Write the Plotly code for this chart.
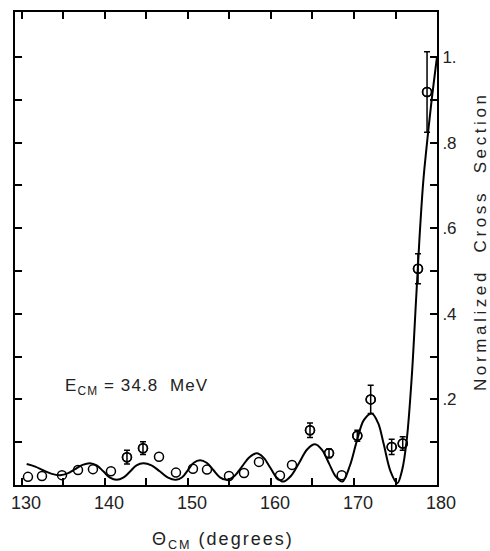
import plotly.graph_objects as go

# Measured points (angle in degrees, normalized cross section)
data_angle = [130.72, 132.41, 134.82, 136.75, 138.55, 140.72, 142.65, 144.58, 146.51,
              148.55, 150.60, 152.29, 154.94, 156.75, 158.55, 161.08, 162.53, 164.70,
              166.99, 168.52, 170.40, 172.01, 174.54, 175.87, 177.71, 178.80]
data_value = [0.019, 0.021, 0.023, 0.035, 0.037, 0.032, 0.065, 0.086, 0.066,
              0.029, 0.038, 0.036, 0.021, 0.028, 0.054, 0.022, 0.047, 0.128,
              0.074, 0.023, 0.115, 0.200, 0.089, 0.097, 0.505, 0.918]
data_error = [None, None, None, None, None, None, 0.016, 0.015, None,
              None, None, None, None, None, None, None, None, 0.017,
              0.010, None, 0.013, 0.033, 0.018, 0.016, 0.035, 0.094]

# Theoretical curve
curve_angle = [130.57, 131.6, 132.6, 133.6, 134.58, 135.5, 136.4, 137.3, 138.19,
               139.0, 139.8, 140.6, 141.41, 142.2, 143.0, 143.8, 144.62,
               145.6, 146.6, 147.6, 148.55, 149.3, 150.0, 150.7, 151.45,
               152.25, 153.05, 153.85, 154.66, 155.6, 156.5, 157.4, 158.28,
               159.1, 159.9, 160.7, 161.48, 162.4, 163.4, 164.35, 165.30,
               166.15, 167.0, 167.8, 168.6, 169.5, 170.33, 171.2, 172.13,
               172.9, 173.55, 174.4, 175.22, 175.8, 176.35, 176.95, 177.47,
               177.9, 178.35, 178.8, 179.3, 180.0]
curve_value = [0.049, 0.043, 0.034, 0.026, 0.023, 0.027, 0.037, 0.047, 0.051,
               0.046, 0.032, 0.017, 0.012, 0.017, 0.031, 0.046, 0.051,
               0.046, 0.032, 0.017, 0.012, 0.018, 0.035, 0.052, 0.058,
               0.052, 0.035, 0.018, 0.012, 0.021, 0.043, 0.065, 0.074,
               0.064, 0.041, 0.017, 0.008, 0.021, 0.052, 0.083, 0.095,
               0.082, 0.050, 0.020, 0.008, 0.045, 0.102, 0.152, 0.167,
               0.145, 0.098, 0.032, 0.004, 0.035, 0.105, 0.250, 0.430,
               0.580, 0.710, 0.800, 0.890, 1.000]

x_tickvals = [130, 140, 150, 160, 170, 180]
x_ticktext = ["130", "140", "150", "160", "170", "180"]
x_minorvals = [135, 145, 155, 165, 175]
y_tickvals = [0.2, 0.4, 0.6, 0.8, 1.0]
y_ticktext = [".2", ".4", ".6", ".8", "1."]
y_minorvals = [0.1, 0.3, 0.5, 0.7, 0.9]

err_x = [a for a, e in zip(data_angle, data_error) if e is not None]
err_y = [v for v, e in zip(data_value, data_error) if e is not None]
err_e = [e for e in data_error if e is not None]

FONT = "Liberation Sans"
INK = "#222"

fig = go.Figure()
fig.add_trace(go.Scatter(x=curve_angle, y=curve_value, mode="lines",
                         line=dict(color="black", width=2, shape="spline", smoothing=1.0),
                         hoverinfo="skip"))
fig.add_trace(go.Scatter(x=err_x, y=err_y, mode="markers",
                         marker=dict(symbol="circle-open", size=9, color="black",
                                     line=dict(width=1.5, color="black")),
                         error_y=dict(type="data", array=err_e, visible=True,
                                      color="black", thickness=1.5, width=3)))
fig.add_trace(go.Scatter(x=data_angle, y=data_value, mode="markers",
                         marker=dict(symbol="circle-open", size=9, color="black",
                                     line=dict(width=1.5, color="black"))))

fig.add_annotation(x=134.9, y=0.228, xref="x", yref="y", xanchor="left", yanchor="middle",
                   text="E<sub>CM</sub> = 34.8  MeV", showarrow=False,
                   font=dict(family=FONT, size=17, color=INK))
fig.add_annotation(x=(222 - 15) / 422, y=(485 - 541) / 475, xref="paper", yref="paper",
                   xanchor="center", yanchor="middle",
                   text="\u0398<sub>CM</sub> (degrees)", showarrow=False,
                   font=dict(family=FONT, size=18, color=INK))
fig.add_annotation(x=(480 - 15) / 422, y=(485 - 242) / 475, xref="paper", yref="paper",
                   xanchor="center", yanchor="middle", textangle=-90,
                   text="Normalized&nbsp;&nbsp;Cross&nbsp;&nbsp;Section", showarrow=False,
                   font=dict(family=FONT, size=17, color=INK))

tick_style = dict(ticks="inside", ticklen=7, tickwidth=1.5, tickcolor="black")

fig.update_layout(
    width=490, height=551,
    margin=dict(l=15, r=53, t=10, b=66),
    paper_bgcolor="white", plot_bgcolor="white",
    showlegend=False,
    font=dict(family=FONT, size=17, color=INK),
    xaxis=dict(range=[129.16, 180], tickvals=x_tickvals, ticktext=x_ticktext,
               minor=dict(tickvals=x_minorvals, showgrid=False, **tick_style),
               showline=True, linecolor="black", linewidth=2, mirror="ticks",
               showgrid=False, zeroline=False, ticklabelshift=4,
               tickfont=dict(family=FONT, size=18, color=INK), **tick_style),
    yaxis=dict(range=[0, 1.105], side="right", tickvals=y_tickvals, ticktext=y_ticktext,
               minor=dict(tickvals=y_minorvals, showgrid=False, **tick_style),
               showline=True, linecolor="black", linewidth=2, mirror="ticks",
               showgrid=False, zeroline=False,
               tickfont=dict(family=FONT, size=17, color=INK), **tick_style),
)

post = """
var gd = document.getElementById('{plot_id}');
function spread(t, ls, keepLeft){
  var b0 = t.getBBox();
  t.setAttribute('letter-spacing', ls);
  var b1 = t.getBBox();
  var dx = keepLeft ? (b0.x - b1.x)
                    : ((b0.x + b0.width / 2) - (b1.x + b1.width / 2 - parseFloat(ls) / 2));
  var els = [t].concat(Array.prototype.slice.call(t.querySelectorAll('tspan[x]')));
  els.forEach(function(el){
    var x = parseFloat(el.getAttribute('x'));
    if (!isNaN(x)) { el.setAttribute('x', x + dx); }
  });
}
function spaceOut(){
  gd.querySelectorAll('text.annotation-text').forEach(function(t){
    if (t.getAttribute('data-spread')) { return; }
    var s = t.textContent;
    if (s.indexOf('Normalized') >= 0) { spread(t, '3.6px', false); }
    else if (s.indexOf('degrees') >= 0) { spread(t, '2px', false); }
    else if (s.indexOf('MeV') >= 0) { spread(t, '1.1px', true); }
    t.setAttribute('data-spread', '1');
  });
}
spaceOut();
"""

fig.write_html("out.html", post_script=post)
